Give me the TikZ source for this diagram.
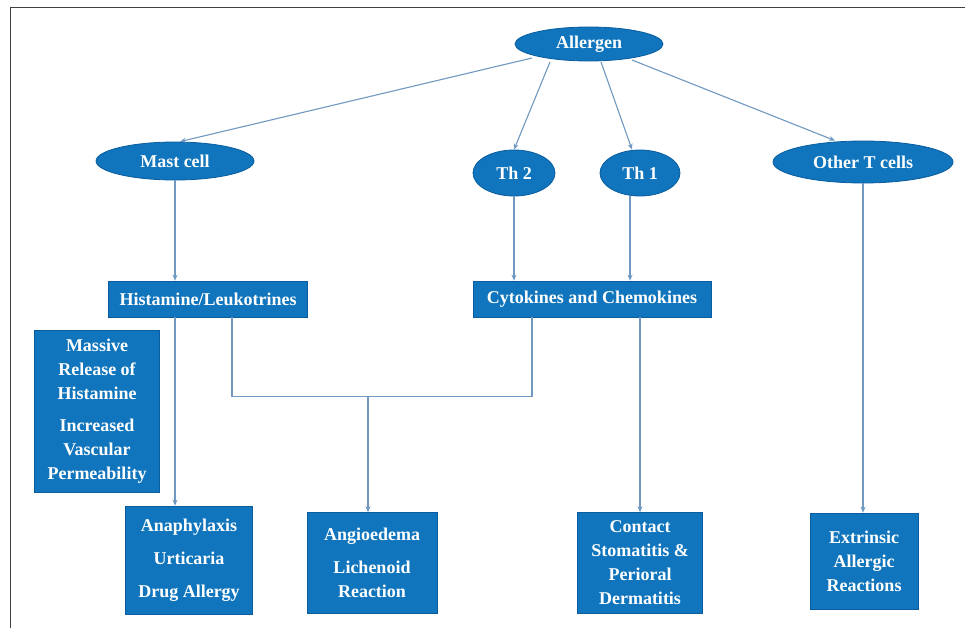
\documentclass[tikz,border=0pt]{standalone}
\usepackage{fontspec}
\newfontfamily\libserif{Liberation Serif}
\usetikzlibrary{shapes.geometric, arrows.meta, positioning}
\definecolor{cellblue}{RGB}{16,117,188}
\definecolor{celledge}{RGB}{10,92,158}
\definecolor{linkblue}{RGB}{112,152,192}
\tikzset{
	cell/.style={ellipse, fill=cellblue, draw=celledge, line width=0.8pt, text=white,
		font=\libserif\bfseries\fontsize{18}{24}\selectfont, inner sep=0pt},
	resbox/.style={rectangle, fill=cellblue, draw=celledge, line width=0.6pt, text=white,
		font=\libserif\bfseries\fontsize{18}{24}\selectfont, align=center, inner sep=0pt},
	link/.style={draw=linkblue, line width=1.1pt},
	arr/.style={link, -{Stealth[length=6pt,width=5pt]}}
}

\begin{document}
\begin{tikzpicture}[x=1pt, y=-1pt]
		\useasboundingbox (0,0) rectangle (965,628);
		% Frame
		\draw[black!75, line width=1pt] (10,628) -- (10,8) -- (965,8);

		% Cells
		\node[cell, minimum width=148pt, minimum height=34pt] (allergen) at (589,44) {Allergen};
		\node[cell, minimum width=158pt, minimum height=38pt] (mast) at (175,161) {Mast cell};
		\node[cell, minimum width=82pt, minimum height=46pt] (th2) at (514,173) {Th 2};
		\node[cell, minimum width=80pt, minimum height=46pt] (th1) at (640,173) {Th 1};
		\node[cell, minimum width=180pt, minimum height=42pt] (other) at (863,162) {Other T cells};

		% Mediators
		\node[resbox, minimum width=199pt, minimum height=36pt] (hist) at (208,299) {Histamine/Leukotrines};
		\node[resbox, minimum width=238pt, minimum height=36pt] (cyto) at (592,299) {Cytokines and Chemokines};
		\node[resbox, minimum width=125pt, minimum height=162pt] (massive) at (97,411)
			{Massive\\Release of\\Histamine\\[8pt]Increased\\Vascular\\Permeability};

		% Reactions
		\node[resbox, minimum width=127pt, minimum height=108pt] (ana) at (189,560)
			{Anaphylaxis\\[9pt]Urticaria\\[9pt]Drug Allergy};
		\node[resbox, minimum width=130pt, minimum height=101pt] (angio) at (372,563)
			{Angioedema\\[9pt]Lichenoid\\Reaction};
		\node[resbox, minimum width=125pt, minimum height=101pt] (contact) at (640,563)
			{Contact\\Stomatitis \&\\Perioral\\Dermatitis};
		\node[resbox, minimum width=108pt, minimum height=96pt] (ext) at (864,561)
			{Extrinsic\\Allergic\\Reactions};

		% Allergen to cells
		\draw[arr] ([shift={(-57,14)}]allergen.center) -- ([xshift=5pt]mast.north);
		\draw[arr] ([shift={(-39,18)}]allergen.center) -- (th2.north);
		\draw[arr] ([shift={(12,18)}]allergen.center) -- ([xshift=-8pt]th1.north);
		\draw[arr] ([shift={(43,16)}]allergen.center) -- ([xshift=-28pt]other.north);

		% Cells to mediators
		\draw[arr] (mast.south) -- (mast.south |- hist.north);
		\draw[arr] (th2.south) -- (th2.south |- cyto.north);
		\draw[arr] ([xshift=-10pt]th1.south) -- ([xshift=-10pt]th1.south |- cyto.north);

		% Mediators to reactions
		\draw[arr] (mast.south |- hist.south) -- (mast.south |- ana.north);
		\draw[link] ([xshift=24pt]hist.south) -- ++(0,79) coordinate (join) -| ([xshift=-60pt]cyto.south);
		\coordinate (split) at ([xshift=136pt]join);
		\draw[arr] (split) -- ([xshift=-4pt]angio.north);
		\draw[arr] (contact.north |- cyto.south) -- (contact.north);
		\draw[arr] (other.south) -- (other.south |- ext.north);
	\end{tikzpicture}
\end{document}
